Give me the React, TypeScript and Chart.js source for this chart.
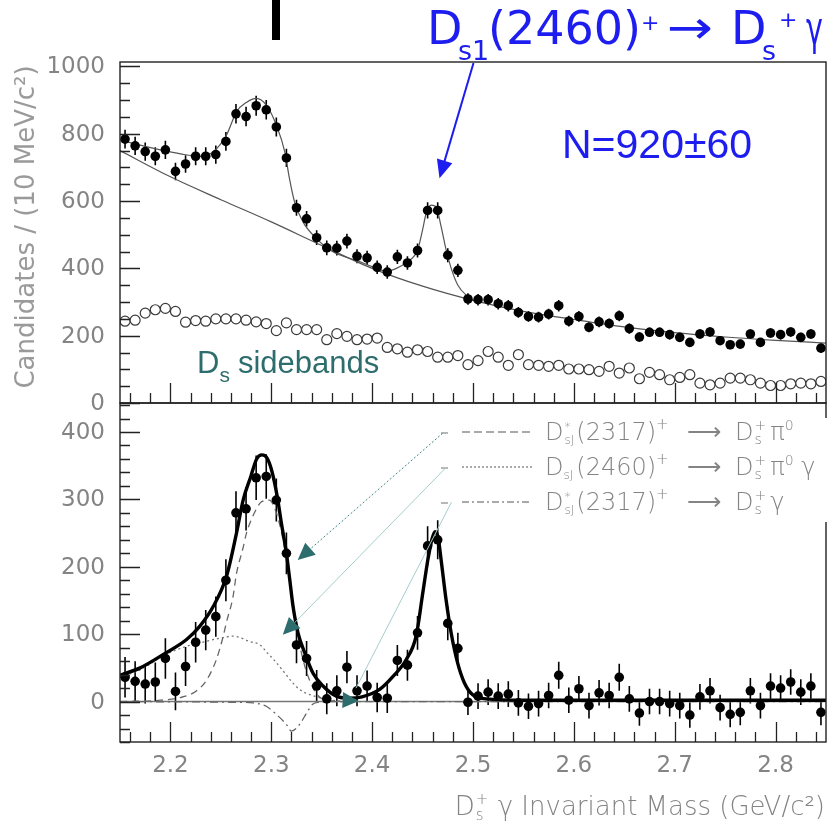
import React, { useEffect, useRef } from 'react';
import { Chart, registerables } from 'chart.js';
Chart.register(...registerables);

// ---------------- DATA ----------------
const binCenters = [2.155, 2.165, 2.175, 2.185, 2.195, 2.205, 2.215, 2.225, 2.235, 2.245, 2.255, 2.265, 2.275, 2.285, 2.295, 2.305, 2.315, 2.325, 2.335, 2.345, 2.355, 2.365, 2.375, 2.385, 2.395, 2.405, 2.415, 2.425, 2.435, 2.445, 2.455, 2.465, 2.475, 2.485, 2.495, 2.505, 2.515, 2.525, 2.535, 2.545, 2.555, 2.565, 2.575, 2.585, 2.595, 2.605, 2.615, 2.625, 2.635, 2.645, 2.655, 2.665, 2.675, 2.685, 2.695, 2.705, 2.715, 2.725, 2.735, 2.745, 2.755, 2.765, 2.775, 2.785, 2.795, 2.805, 2.815, 2.825, 2.835, 2.845];

const topCounts = [784, 764, 747, 733, 752, 688, 710, 733, 733, 738, 777, 859, 851, 883, 871, 820, 728, 580, 547, 491, 461, 460, 481, 436, 431, 403, 389, 434, 416, 453, 572, 572, 439, 394, 309, 307, 307, 295, 289, 269, 257, 255, 264, 289, 243, 257, 225, 241, 236, 259, 221, 196, 210, 210, 203, 195, 180, 205, 211, 185, 173, 175, 205, 180, 208, 203, 211, 195, 205, 163];
const topErrors = [28, 27, 27, 27, 27, 26, 26, 27, 27, 27, 28, 29, 29, 30, 29, 28, 27, 24, 23, 22, 22, 22, 22, 21, 21, 20, 20, 21, 20, 21, 24, 24, 21, 20, 17, 17, 17, 17, 17, 16, 16, 16, 16, 17, 16, 16, 15, 16, 15, 16, 15, 14, 14, 14, 14, 14, 13, 14, 14, 13, 13, 13, 14, 13, 14, 14, 14, 14, 14, 13];
const sidebandCounts = [243, 246, 267, 277, 281, 272, 240, 245, 243, 250, 250, 250, 246, 241, 236, 215, 238, 218, 218, 218, 188, 206, 198, 188, 190, 193, 165, 161, 151, 158, 153, 136, 136, 141, 114, 126, 153, 136, 112, 144, 114, 112, 109, 112, 101, 101, 99, 94, 109, 89, 104, 72, 91, 84, 69, 76, 84, 59, 54, 59, 74, 74, 69, 59, 52, 52, 57, 59, 57, 64];

const bottomCounts = [36, 30, 26, 29, 64, 15, 52, 88, 106, 126, 180, 280, 286, 332, 334, 299, 220, 84, 64, 23, 4, 16, 51, 16, 23, 6, 5, 61, 54, 102, 231, 240, 116, 79, -1, 8, 14, 8, 11, -2, -7, -3, 9, 39, 2, 19, -6, 13, 9, 36, 4, -17, 0, 0, -3, -6, -20, 7, 16, -9, -19, -16, 16, -6, 23, 20, 29, 14, 23, -16];
const bottomErrors = [30, 30, 29, 29, 30, 28, 29, 30, 30, 30, 31, 32, 32, 33, 33, 32, 31, 27, 26, 24, 23, 23, 24, 23, 23, 22, 22, 23, 23, 25, 29, 29, 25, 23, 19, 19, 19, 19, 19, 19, 19, 19, 19, 20, 19, 19, 19, 19, 19, 20, 19, 19, 19, 19, 19, 19, 19, 19, 19, 19, 19, 19, 19, 19, 19, 19, 19, 19, 19, 19];

// top panel fit curves
const topBackgroundX = [2.15, 2.20, 2.25, 2.30, 2.35, 2.40, 2.45, 2.50, 2.55, 2.60, 2.65, 2.70, 2.75, 2.80, 2.85];
const topBackgroundY = [750, 672, 604, 538, 468, 400, 347, 305, 272, 248, 226, 209, 196, 186, 178];
const topFitX = [2.15, 2.17, 2.19, 2.21, 2.229, 2.2424, 2.2556, 2.2655, 2.2753, 2.2853, 2.295, 2.305, 2.3134, 2.318, 2.323, 2.3314, 2.3446, 2.3611, 2.3876, 2.40, 2.4147, 2.424, 2.435, 2.445, 2.45, 2.4535, 2.4585, 2.4634, 2.4684, 2.4734, 2.4784, 2.485, 2.495, 2.50];
const topFitY = [782, 766, 752, 740, 733, 746, 796, 865, 893, 905, 885, 826, 746, 667, 598, 538, 489, 449, 420, 405, 392, 400, 420, 454, 514, 563, 588, 583, 524, 454, 400, 350, 316, 305];

// bottom panel curves
const bottomFitX = [2.15, 2.17, 2.193, 2.216, 2.2292, 2.2424, 2.2556, 2.2655, 2.2721, 2.2797, 2.2855, 2.2907, 2.2955, 2.30, 2.3058, 2.31, 2.315, 2.3183, 2.3216, 2.3265, 2.3332, 2.3414, 2.3513, 2.3645, 2.3777, 2.39, 2.4074, 2.4205, 2.4337, 2.4436, 2.4502, 2.4552, 2.4595, 2.4624, 2.4655, 2.4684, 2.4733, 2.4783, 2.4848, 2.4914, 2.4997, 2.513, 2.55, 2.85];
const bottomFitY = [39, 50, 70, 92, 112, 141, 186, 250, 299, 334, 360, 366, 362, 345, 305, 265, 220, 181, 141, 102, 72, 42, 23, 8, 5, 7, 18, 37, 62, 97, 161, 210, 242, 252, 243, 210, 151, 102, 57, 28, 10, 4, 2, 2];
const pi0ReflX = [2.15, 2.19, 2.21, 2.225, 2.235, 2.245, 2.252, 2.2556, 2.262, 2.2655, 2.272, 2.2754, 2.282, 2.29, 2.298, 2.305, 2.311, 2.318, 2.325, 2.331, 2.339, 2.347, 2.36, 2.37];
const pi0ReflY = [0, 2, 6, 15, 30, 60, 95, 118, 155, 190, 228, 250, 276, 296, 299, 280, 245, 185, 112, 65, 28, 8, 1, 0];
const ds2460ReflX = [2.15, 2.17, 2.193, 2.216, 2.229, 2.246, 2.262, 2.279, 2.289, 2.295, 2.302, 2.312, 2.32, 2.328, 2.345, 2.36, 2.38];
const ds2460ReflY = [36, 47, 68, 82, 87, 93, 97, 89, 84, 74, 63, 45, 30, 18, 7, 2, 0];
const gammaReflX = [2.15, 2.26, 2.282, 2.295, 2.305, 2.315, 2.32, 2.328, 2.335, 2.341, 2.348, 2.36, 2.85];
const gammaReflY = [0, -1, -2, -7, -19, -34, -44, -34, -17, -4, -1, 0, 0];
const zeroLineX = [2.15, 2.85];
const zeroLineY = [0, 0];

// ticks
const xTickValues = [2.2, 2.3, 2.4, 2.5, 2.6, 2.7, 2.8];
const xTickLabels = ['2.2', '2.3', '2.4', '2.5', '2.6', '2.7', '2.8'];
const topYTickValues = [0, 200, 400, 600, 800, 1000];
const topYTickLabels = ['0', '200', '400', '600', '800', '1000'];
const bottomYTickValues = [0, 100, 200, 300, 400];
const bottomYTickLabels = ['0', '100', '200', '300', '400'];

// ---------------- HELPERS ----------------
const FAM = '"DejaVu Sans"';
const TICKFONT = `23px ${FAM}`;
const GREY = '#848484';
const BLUE = '#1d1df0';
const TEAL = '#2e6d6d';

const zip = (xs: number[], ys: number[]) => xs.map((x, i) => ({ x, y: ys[i] }));

type Item = any;

function runText(ctx: CanvasRenderingContext2D, items: Item[], x: number, y: number, draw = true) {
  let cx = x;
  for (const it of items as any[]) {
    const fam = it.f || FAM;
    const w = it.w || 'normal';
    ctx.font = `${w} ${it.s}px ${fam}`;
    if (it.pair) {
      const w1 = ctx.measureText(it.sup).width;
      const w2 = ctx.measureText(it.sub).width;
      if (draw) {
        ctx.fillText(it.sup, cx + 1, y + it.supDy);
        ctx.fillText(it.sub, cx + 1, y + it.subDy);
      }
      cx += Math.max(w1, w2) + 2 + (it.gap || 0);
    } else {
      if (draw) ctx.fillText(it.t, cx, y + (it.dy || 0));
      cx += ctx.measureText(it.t).width + (it.gap || 0);
    }
  }
  return cx - x;
}

function arrowHead(ctx: CanvasRenderingContext2D, tx: number, ty: number, dx: number, dy: number, len: number, half: number, color: string) {
  const L = Math.hypot(dx, dy);
  const ux = dx / L, uy = dy / L;
  const bx = tx - ux * len, by = ty - uy * len;
  const px = -uy, py = ux;
  ctx.beginPath();
  ctx.moveTo(tx, ty);
  ctx.lineTo(bx + px * half, by + py * half);
  ctx.lineTo(bx - px * half, by - py * half);
  ctx.closePath();
  ctx.fillStyle = color;
  ctx.fill();
}

function drawFrameAndTicks(chart: any, yMinorStep: number, yMajorStep: number, yVals: number[], yLabels: string[], withXLabels: boolean) {
  const ctx: CanvasRenderingContext2D = chart.ctx;
  const { left, right, top, bottom } = chart.chartArea;
  const xs = chart.scales.x, ys = chart.scales.y;
  ctx.save();
  ctx.setLineDash([]);
  ctx.strokeStyle = '#222';
  ctx.lineWidth = 1.4;
  ctx.strokeRect(left, top, right - left, bottom - top);
  ctx.lineWidth = 1.3;
  ctx.beginPath();
  const start = Math.ceil(ys.min / yMinorStep) * yMinorStep;
  for (let v = start; v <= ys.max + 1e-6; v += yMinorStep) {
    const major = Math.abs(v / yMajorStep - Math.round(v / yMajorStep)) < 1e-6;
    const py = Math.round(ys.getPixelForValue(v)) + 0.5;
    ctx.moveTo(left, py);
    ctx.lineTo(left + (major ? 20 : 10), py);
  }
  for (let i = 216; i <= 284; i += 2) {
    const v = i / 100;
    const major = i % 10 === 0;
    const px = Math.round(xs.getPixelForValue(v)) + 0.5;
    ctx.moveTo(px, bottom);
    ctx.lineTo(px, bottom - (major ? 20 : 10));
  }
  ctx.stroke();
  ctx.fillStyle = GREY;
  ctx.font = TICKFONT;
  ctx.textAlign = 'right';
  ctx.textBaseline = 'middle';
  yVals.forEach((v, i) => ctx.fillText(yLabels[i], 105, ys.getPixelForValue(v) + 1));
  if (withXLabels) {
    ctx.textAlign = 'center';
    xTickValues.forEach((v, i) => ctx.fillText(xTickLabels[i], xs.getPixelForValue(v), bottom + 24));
  }
  ctx.restore();
}

function drawErrorBars(chart: any, values: number[], errors: number[]) {
  const ctx: CanvasRenderingContext2D = chart.ctx;
  const xs = chart.scales.x, ys = chart.scales.y;
  const { left, right, top, bottom } = chart.chartArea;
  ctx.save();
  ctx.beginPath();
  ctx.rect(left, top, right - left, bottom - top);
  ctx.clip();
  ctx.strokeStyle = '#000';
  ctx.lineWidth = 1.6;
  ctx.beginPath();
  values.forEach((v, i) => {
    const px = xs.getPixelForValue(binCenters[i]);
    ctx.moveTo(px, ys.getPixelForValue(v + errors[i]));
    ctx.lineTo(px, ys.getPixelForValue(v - errors[i]));
  });
  ctx.stroke();
  ctx.restore();
}

// ---------------- PLUGINS ----------------
const topPlugin = {
  id: 'topDecor',
  beforeDatasetsDraw(chart: any) {
    drawErrorBars(chart, topCounts, topErrors);
  },
  afterDraw(chart: any) {
    const ctx: CanvasRenderingContext2D = chart.ctx;
    const xs = chart.scales.x, ys = chart.scales.y;
    drawFrameAndTicks(chart, 50, 200, topYTickValues, topYTickLabels, false);
    ctx.save();
    // y axis title
    ctx.translate(34, 227);
    ctx.rotate(-Math.PI / 2);
    ctx.fillStyle = '#9a9a9a';
    ctx.font = `26px ${FAM}`;
    ctx.textAlign = 'center';
    ctx.textBaseline = 'alphabetic';
    ctx.fillText('Candidates / (10 MeV/c\u00b2)', 0, 0);
    ctx.restore();

    ctx.save();
    // black bar at the top
    ctx.fillStyle = '#000';
    ctx.fillRect(272, 0, 8, 40);
    // blue title
    ctx.fillStyle = BLUE;
    ctx.textAlign = 'left';
    ctx.textBaseline = 'alphabetic';
    const base = 44;
    ctx.font = `46px ${FAM}`;
    ctx.fillText('D', 427, base);
    ctx.font = `27px ${FAM}`;
    ctx.fillText('s1', 458, base + 16);
    ctx.font = `46px ${FAM}`;
    ctx.fillText('(2460)', 488, base);
    ctx.font = `22px ${FAM}`;
    ctx.fillText('+', 641, base - 14);
    ctx.save();
    ctx.translate(667, base - 1);
    ctx.scale(1.2, 1);
    ctx.font = `46px ${FAM}`;
    ctx.fillText('\u2192', 0, 0);
    ctx.restore();
    ctx.font = `46px ${FAM}`;
    ctx.fillText('D', 731, base);
    ctx.font = `27px ${FAM}`;
    ctx.fillText('s', 762, base + 16);
    ctx.font = `22px ${FAM}`;
    ctx.fillText('+', 779, base - 17);
    ctx.save();
    ctx.translate(806, base);
    ctx.scale(0.62, 1);
    ctx.font = `46px ${FAM}`;
    ctx.fillText('\u03b3', 0, 0);
    ctx.restore();
    // blue arrow
    const sx = xs.getPixelForValue(2.5005), sy = ys.getPixelForValue(1010);
    const tx = xs.getPixelForValue(2.4668), ty = ys.getPixelForValue(668);
    ctx.strokeStyle = BLUE;
    ctx.lineWidth = 2;
    ctx.beginPath();
    ctx.moveTo(sx, sy);
    ctx.lineTo(tx + (sx - tx) * 0.1, ty + (sy - ty) * 0.1);
    ctx.stroke();
    arrowHead(ctx, tx, ty, tx - sx, ty - sy, 18, 8, BLUE);
    // N=920±60
    ctx.fillStyle = BLUE;
    ctx.font = `41px "Liberation Sans"`;
    ctx.fillText('N=920\u00b160', 562, 158);
    // Ds sidebands
    ctx.fillStyle = TEAL;
    runText(ctx, [
      { t: 'D', s: 31, f: '"Liberation Sans"', gap: 0 },
      { t: 's', s: 21, dy: 9, f: '"Liberation Sans"', gap: 8 },
      { t: 'sidebands', s: 31, f: '"Liberation Sans"' },
    ], 197, 373);
    ctx.restore();
  },
};

const legendRows = [
  { y: 440, dash: [8, 4], A: [{ t: 'D', s: 24 }, { pair: true, sup: '*', sub: 'sJ', s: 12, supDy: -9, subDy: 4, gap: 1 }, { t: '(2317)', s: 24 }, { t: '+', s: 15, dy: -11 }], B: [{ t: 'D', s: 24 }, { pair: true, sup: '+', sub: 's', s: 14, supDy: -10, subDy: 4, gap: 3 }, { t: '\u03c0', s: 24 }, { t: '0', s: 14, dy: -10 }] },
  { y: 475, dash: [2, 2], A: [{ t: 'D', s: 24 }, { t: 'sJ', s: 12, dy: 4, gap: 3 }, { t: '(2460)', s: 24 }, { t: '+', s: 15, dy: -11 }], B: [{ t: 'D', s: 24 }, { pair: true, sup: '+', sub: 's', s: 14, supDy: -10, subDy: 4, gap: 3 }, { t: '\u03c0', s: 24 }, { t: '0', s: 14, dy: -10 }, { t: ' \u03b3', s: 24 }] },
  { y: 510, dash: [7, 3, 2, 3], A: [{ t: 'D', s: 24 }, { pair: true, sup: '*', sub: 'sJ', s: 12, supDy: -9, subDy: 4, gap: 1 }, { t: '(2317)', s: 24 }, { t: '+', s: 15, dy: -11 }], B: [{ t: 'D', s: 24 }, { pair: true, sup: '+', sub: 's', s: 14, supDy: -10, subDy: 4, gap: 3 }, { t: '\u03b3', s: 24 }] },
];

const bottomPlugin = {
  id: 'bottomDecor',
  beforeDatasetsDraw(chart: any) {
    drawErrorBars(chart, bottomCounts, bottomErrors);
  },
  afterDraw(chart: any) {
    const ctx: CanvasRenderingContext2D = chart.ctx;
    const xs = chart.scales.x, ys = chart.scales.y;
    drawFrameAndTicks(chart, 20, 100, bottomYTickValues, bottomYTickLabels, true);
    ctx.save();
    // legend box
    ctx.fillStyle = '#fff';
    ctx.fillRect(483, 418, 348, 104);
    legendRows.forEach((row) => {
      const ly = row.y - 8;
      ctx.strokeStyle = '#555';
      ctx.lineWidth = 1.2;
      ctx.setLineDash(row.dash);
      ctx.beginPath();
      ctx.moveTo(462, ly);
      ctx.lineTo(532, ly);
      ctx.stroke();
      ctx.setLineDash([]);
      ctx.strokeStyle = '#888';
      ctx.beginPath();
      ctx.moveTo(441, ly + 1);
      ctx.lineTo(448, ly + 1);
      ctx.stroke();
      ctx.fillStyle = GREY;
      ctx.textAlign = 'left';
      ctx.textBaseline = 'alphabetic';
      (row.A as any[]).forEach((it) => (it.w = '200'));
      (row.B as any[]).forEach((it) => (it.w = '200'));
      runText(ctx, row.A, 545, row.y);
      ctx.font = `200 24px ${FAM}`;
      ctx.fillText('\u27f6', 687, row.y);
      runText(ctx, row.B, 735, row.y);
    });
    // teal arrows
    const P = (x: number, y: number) => [xs.getPixelForValue(x), ys.getPixelForValue(y)];
    const [a1sx, a1sy] = P(2.4698, 398), [a1tx, a1ty] = P(2.3262, 210);
    ctx.strokeStyle = '#3f8585';
    ctx.lineWidth = 1;
    ctx.setLineDash([2, 2]);
    ctx.beginPath();
    ctx.moveTo(a1sx, a1sy);
    ctx.lineTo(a1tx + (a1sx - a1tx) * 0.08, a1ty + (a1sy - a1ty) * 0.08);
    ctx.stroke();
    ctx.setLineDash([]);
    arrowHead(ctx, a1tx, a1ty, a1tx - a1sx, a1ty - a1sy, 17, 8, TEAL);
    const [a2sx, a2sy] = P(2.4738, 348), [a2tx, a2ty] = P(2.3114, 99);
    ctx.strokeStyle = '#a6cccc';
    ctx.beginPath();
    ctx.moveTo(a2sx, a2sy);
    ctx.lineTo(a2tx + (a2sx - a2tx) * 0.06, a2ty + (a2sy - a2ty) * 0.06);
    ctx.stroke();
    arrowHead(ctx, a2tx, a2ty, a2tx - a2sx, a2ty - a2sy, 17, 8, TEAL);
    const [a3sx, a3sy] = P(2.4787, 296), [a3ex, a3ey] = P(2.384, 20), [a3tx, a3ty] = P(2.3866, 1);
    ctx.beginPath();
    ctx.moveTo(a3sx, a3sy);
    ctx.lineTo(a3ex, a3ey);
    ctx.stroke();
    arrowHead(ctx, a3tx, a3ty, 1, 0.05, 16, 8, TEAL);
    // x axis title
    ctx.fillStyle = GREY;
    const titleItems = [
      { t: 'D', s: 26, w: '200' },
      { pair: true, sup: '+', sub: 's', s: 15, supDy: -11, subDy: 5, w: '200' },
      { t: ' \u03b3 Invariant Mass (GeV/c\u00b2)', s: 26, w: '200' },
    ];
    const tw = runText(ctx, titleItems, 0, 0, false);
    runText(ctx, titleItems, 825 - tw, 815);
    ctx.restore();
  },
};

// ---------------- COMPONENT ----------------
export default function App() {
  const topRef = useRef<HTMLCanvasElement>(null);
  const botRef = useRef<HTMLCanvasElement>(null);

  useEffect(() => {
    document.body.style.margin = '0';
    const common = {
      responsive: false,
      devicePixelRatio: 1,
      animation: false as const,
      events: [] as any[],
      plugins: { legend: { display: false }, tooltip: { enabled: false }, title: { display: false } },
    };
    const topChart = new Chart(topRef.current as HTMLCanvasElement, {
      type: 'line',
      data: {
        datasets: [
          { label: 'Data', data: zip(binCenters, topCounts), showLine: false, pointRadius: 4.8, pointBackgroundColor: '#000', pointBorderColor: '#000', pointBorderWidth: 0, order: 0 },
          { label: 'Ds sidebands', data: zip(binCenters, sidebandCounts), showLine: false, pointRadius: 5, pointBackgroundColor: '#fff', pointBorderColor: '#3a3a3a', pointBorderWidth: 1.2, order: 1 },
          { label: 'Fit', data: zip(topFitX, topFitY), borderColor: '#555', borderWidth: 1.2, pointRadius: 0, cubicInterpolationMode: 'monotone', order: 2 },
          { label: 'Background', data: zip(topBackgroundX, topBackgroundY), borderColor: '#555', borderWidth: 1.2, pointRadius: 0, cubicInterpolationMode: 'monotone', order: 3 },
        ] as any,
      },
      options: {
        ...common,
        layout: { padding: { left: 120, right: 7, top: 62, bottom: 430 } },
        scales: {
          x: { type: 'linear', min: 2.15, max: 2.85, display: false },
          y: { type: 'linear', min: 0, max: 1013, display: false },
        },
      } as any,
      plugins: [topPlugin],
    });
    const botChart = new Chart(botRef.current as HTMLCanvasElement, {
      type: 'line',
      data: {
        datasets: [
          { label: 'Data', data: zip(binCenters, bottomCounts), showLine: false, pointRadius: 4.8, pointBackgroundColor: '#000', pointBorderColor: '#000', pointBorderWidth: 0, order: 0 },
          { label: 'Total fit', data: zip(bottomFitX, bottomFitY), borderColor: '#000', borderWidth: 3.4, pointRadius: 0, cubicInterpolationMode: 'monotone', order: 1 },
          { label: 'DsJ*(2317)+ -> Ds+ pi0', data: zip(pi0ReflX, pi0ReflY), borderColor: '#666', borderWidth: 1.3, borderDash: [7, 5], pointRadius: 0, cubicInterpolationMode: 'monotone', order: 2 },
          { label: 'DsJ(2460)+ -> Ds+ pi0 gamma', data: zip(ds2460ReflX, ds2460ReflY), borderColor: '#777', borderWidth: 1.3, borderDash: [2, 3], pointRadius: 0, cubicInterpolationMode: 'monotone', order: 3 },
          { label: 'DsJ*(2317)+ -> Ds+ gamma', data: zip(gammaReflX, gammaReflY), borderColor: '#666', borderWidth: 1.3, borderDash: [8, 4, 2, 4], pointRadius: 0, cubicInterpolationMode: 'monotone', order: 4 },
          { label: 'zero', data: zip(zeroLineX, zeroLineY), borderColor: '#777', borderWidth: 1.5, pointRadius: 0, order: 5 },
        ] as any,
      },
      options: {
        ...common,
        layout: { padding: { left: 120, right: 7, top: 403, bottom: 91 } },
        scales: {
          x: { type: 'linear', min: 2.15, max: 2.85, display: false },
          y: { type: 'linear', min: -60, max: 443, display: false },
        },
      } as any,
      plugins: [bottomPlugin],
    });
    return () => {
      topChart.destroy();
      botChart.destroy();
    };
  }, []);

  return (
    <div style={{ position: 'relative', width: 833, height: 833, background: '#fff', overflow: 'hidden' }}>
      <canvas ref={topRef} width={833} height={833} style={{ position: 'absolute', left: 0, top: 0 }} />
      <canvas ref={botRef} width={833} height={833} style={{ position: 'absolute', left: 0, top: 0 }} />
    </div>
  );
}
